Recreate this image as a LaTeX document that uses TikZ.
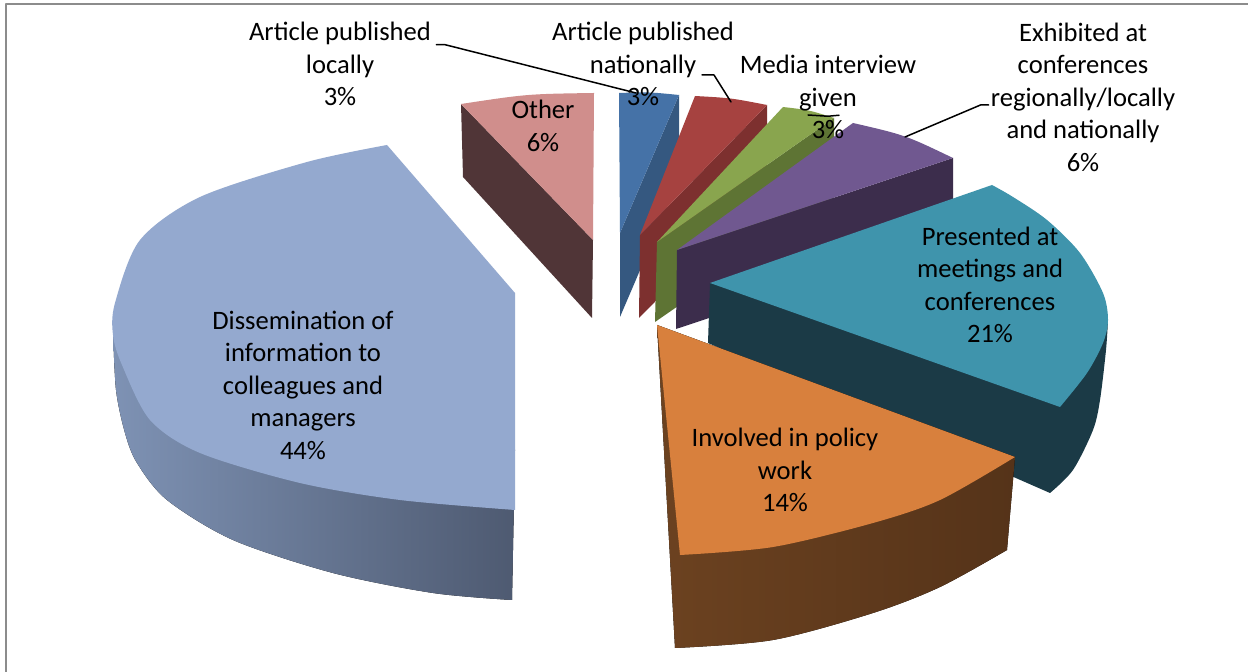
\documentclass[tikz,border=0pt]{standalone}
\usepackage{fontspec}
\setmainfont{Carlito}
\usepackage{pgf,tikz}
\definecolor{frameGray}{RGB}{140,140,140}
\definecolor{otherTop}{RGB}{208,142,140}
\definecolor{otherSide}{RGB}{80,53,55}
\definecolor{locTop}{RGB}{69,114,167}
\definecolor{locSide}{RGB}{53,88,128}
\definecolor{natTop}{RGB}{166,66,64}
\definecolor{natSide}{RGB}{125,48,47}
\definecolor{medTop}{RGB}{137,165,78}
\definecolor{medSide}{RGB}{94,116,52}
\definecolor{exhTop}{RGB}{112,88,144}
\definecolor{exhSide}{RGB}{60,45,76}
\definecolor{presTop}{RGB}{63,148,172}
\definecolor{presSide}{RGB}{27,58,70}
\definecolor{invTop}{RGB}{216,128,61}
\definecolor{invSideL}{RGB}{108,66,32}
\definecolor{invSideR}{RGB}{85,51,25}
\definecolor{disTop}{RGB}{148,169,207}
\definecolor{disSideL}{RGB}{126,146,180}
\definecolor{disSideR}{RGB}{78,90,113}

\begin{document}
\begin{tikzpicture}[line cap=round,line join=round,x=0.5pt,y=-0.5pt,
  lbl/.style={align=center,inner sep=0pt,font=\fontsize{13.3}{16.25}\selectfont},
  leader/.style={black,line width=0.75pt}]
\useasboundingbox (0,0) rectangle (1248,672);
\fill[white] (0,0) rectangle (1248,672);
\draw[frameGray,line width=1pt] (6,672) -- (6,4) -- (1248,4);
\fill[otherSide] (461,104) -- (593,240) -- (592,318) -- (463,177) -- cycle;
\fill[otherTop] (461,104) .. controls (527,94) .. (594,93) -- (593,240) -- cycle;
\fill[locSide] (679,95) -- (620,233) -- (620,317) -- (679,179) -- cycle;
\fill[locTop] (619,93) .. controls (649,92) .. (679,95) -- (620,233) -- cycle;
\fill[natSide] (767,105) -- (640,235) -- (639,318) -- (767,188) -- cycle;
\fill[natTop] (695,96) .. controls (731,98) .. (767,105) -- (640,235) -- cycle;
\fill[medSide] (834,118) -- (657,242) -- (655,322) -- (834,198) -- cycle;
\fill[medTop] (783,107) .. controls (809,110) .. (834,118) -- (657,242) -- cycle;
\fill[exhSide] (953,158) -- (677,250) -- (676,329) -- (953,237) -- cycle;
\fill[exhTop] (853,123) .. controls (905,135) .. (953,158) -- (677,250) -- cycle;
\fill[presSide] (710,283) -- (1108,320) -- plot[smooth] coordinates {(1108,320) (1106,350) (1100,400) (1093,430) (1073,470) (1050,493)} -- (708,343) -- cycle;
\fill[presTop] (710,283) -- (992,185) -- plot[smooth] coordinates {(992,185) (1013,197) (1047,220) (1080,253) (1103,293) (1108,320) (1103,343) (1087,373) (1060,407)} -- cycle;
\fill[left color=invSideL,right color=invSideR] (657,325) -- (675,648) -- plot[smooth] coordinates {(675,648) (773,640) (873,613) (940,587) (1007,550)} -- (1015,457) -- cycle;
\fill[invTop] (657,325) -- (1015,457) -- plot[smooth] coordinates {(1015,457) (940,500) (873,523) (773,547) (680,555)} -- cycle;
\fill[left color=disSideL,right color=disSideR] (113,330) -- plot[smooth] coordinates {(113,330) (116,390) (125,433) (137,463) (167,500) (233,540) (333,573) (433,593) (512,600)} -- (515,450) -- cycle;
\fill[disTop] (387,145) -- (515,293) -- (515,510) -- plot[smooth] coordinates {(515,510) (400,500) (300,483) (200,453) (150,420) (122,365) (113,335) (115,303) (140,240) (200,197) (307,162) (387,145)} -- cycle;
\node[lbl] (loc) at (340,64) {Article published\\locally\\3\%};
\node[lbl] (nat) at (643,64) {Article published\\nationally\\3\%};
\node[lbl] (med) at (828,97) {Media interview\\given\\3\%};
\node[lbl] (exh) at (1083,97) {Exhibited at\\conferences\\regionally/locally\\and nationally\\6\%};
\node[lbl] (oth) at (543,126) {Other\\6\%};
\node[lbl] (pres) at (990,285) {Presented at\\meetings and\\conferences\\21\%};
\node[lbl] (inv) at (785,470) {Involved in policy\\work\\14\%};
\node[lbl] (dis) at (303,385) {Dissemination of\\information to\\colleagues and\\managers\\44\%};
\coordinate (locend) at (636,93);
\coordinate (natend) at (731,102);
\coordinate (medend) at (808,115);
\coordinate (exhend) at (905,137);
\draw[leader] (loc.north east) ++(5,23) -- ++(9,0) -- (locend);
\draw[leader] (nat.center) ++(59,11) -- ++(12,0) -- (natend);
\draw[leader] (med.south) ++(11,-24) -- ++(-11,1) -- (medend);
\draw[leader] (exh.west) ++(-2,8) -- ++(-8,0) -- (exhend);
\end{tikzpicture}
\end{document}
